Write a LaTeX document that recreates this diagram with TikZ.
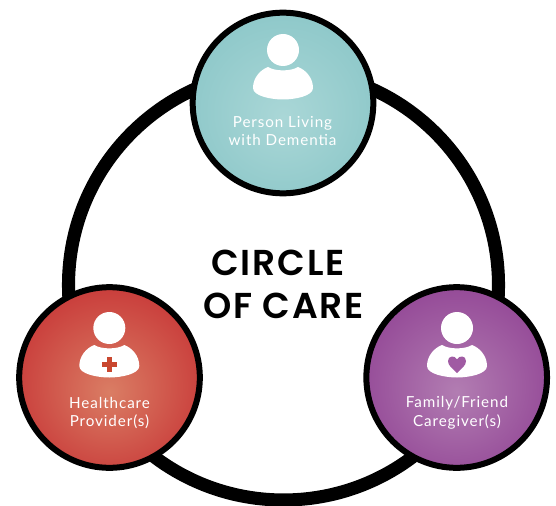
\documentclass[tikz,border=0pt]{standalone}
\usepackage{fontspec}
\setmainfont{Lato}
\newfontfamily\labelfont[LetterSpace=6]{Lato}
\newfontfamily\titlefont[LetterSpace=5]{Poppins SemiBold}
\usepackage{xcolor}
\usepackage{tikz}

\definecolor{plusred}{HTML}{C9472F}
\definecolor{heartpurple}{HTML}{A05BA3}
\definecolor{tealmid}{HTML}{AAD7D7}
\definecolor{tealrim}{HTML}{7DBFC1}
\definecolor{redmid}{HTML}{DA7D64}
\definecolor{redrim}{HTML}{C3262C}
\definecolor{purplemid}{HTML}{B27DB2}
\definecolor{purplerim}{HTML}{89368D}
\pgfdeclareradialshading{tealglow}{\pgfpoint{0bp}{-4bp}}{color(0bp)=(tealmid); color(44bp)=(tealrim); color(50bp)=(tealrim)}
\pgfdeclareradialshading{redglow}{\pgfpoint{0bp}{-4bp}}{color(0bp)=(redmid); color(37bp)=(redrim); color(50bp)=(redrim)}
\pgfdeclareradialshading{purpleglow}{\pgfpoint{0bp}{-4bp}}{color(0bp)=(purplemid); color(38bp)=(purplerim); color(50bp)=(purplerim)}

\tikzset{
	carecircle/.style={circle,draw=black,line width=4.5pt,minimum size=135.5pt,inner sep=0pt},
	carelabel/.style={text=white,align=center,font=\labelfont\fontsize{11.4}{14.2}\selectfont},
	titleline/.style={font=\titlefont\fontsize{27}{33}\selectfont},
	person/.pic={
		\fill[white] (0,0) circle (16);
		\fill[white] (-15,17) .. controls (-23,20) and (-30,28) .. (-30,38)
			.. controls (-30,46) and (-12,49.5) .. (0,49.5)
			.. controls (12,49.5) and (30,46) .. (30,38)
			.. controls (30,28) and (23,20) .. (15,17)
			.. controls (8,21.5) and (-8,21.5) .. (-15,17) -- cycle;
	}
}

\begin{document}
\begin{tikzpicture}[x=0.75pt,y=-0.75pt]
		\useasboundingbox (0,0) rectangle (556,506);
		\begin{scope}
		\clip (0,0) rectangle (556,506);
		% big ring
		\draw[line width=9.8pt] (283.5,285) circle (215);
		\end{scope}
		%
		\node[carecircle,shading=tealglow] (person) at (283,103) {};
		\node[carecircle,shading=redglow] (provider) at (109.5,377.5) {};
		\node[carecircle,shading=purpleglow] (family) at (456.7,377.5) {};
		% icons
		\pic at (283,50) {person};
		\pic at (109.3,328) {person};
		\pic at (457,328) {person};
		\fill[plusred] (106.8,357) rectangle (112.2,372);
		\fill[plusred] (102,361.8) rectangle (117,367.2);
		\fill[heartpurple] (457,373) .. controls (452,368) and (448,365.5) .. (448,361)
			.. controls (448,355.5) and (455,355) .. (457,359.5)
			.. controls (459,355) and (466,355.5) .. (466,361)
			.. controls (466,365.5) and (462,368) .. (457,373) -- cycle;
		% labels
		\node[carelabel] (personlabel) at (282.5,131) {Person Living\\with Dementia};
		\node[carelabel] (providerlabel) at (109.5,413) {Healthcare\\Provider(s)};
		\node[carelabel] (familylabel) at (457,413) {Family/Friend\\Caregiver(s)};
		\node[titleline,anchor=base] (titletop) at (278,275) {CIRCLE};
		\node[titleline,anchor=base] (titlebottom) at (283.5,318) {OF CARE};
	\end{tikzpicture}
\end{document}
